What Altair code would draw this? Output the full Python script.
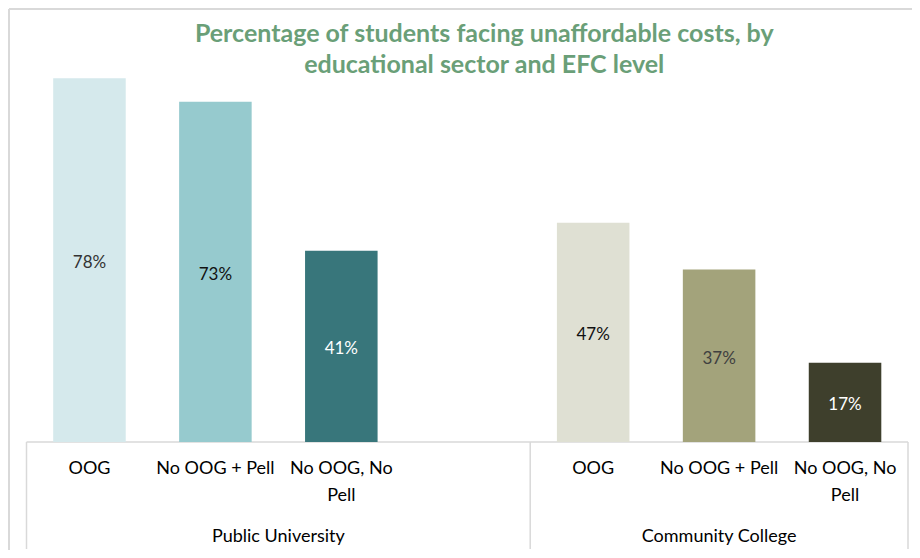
import altair as alt
import pandas as pd

# ---- data ----
slots = ["pu_oog", "pu_pell", "pu_none", "gap", "cc_oog", "cc_pell", "cc_none"]
bar_slots = ["pu_oog", "pu_pell", "pu_none", "cc_oog", "cc_pell", "cc_none"]
categories = ["OOG", "No OOG + Pell", "No OOG, No\nPell",
              "OOG", "No OOG + Pell", "No OOG, No\nPell"]
sectors = ["Public University"] * 3 + ["Community College"] * 3
values = [0.78, 0.73, 0.41, 0.47, 0.37, 0.17]
bar_colors = ["#D5E9EC", "#96CACE", "#38767B", "#DFE0D3", "#A3A37B", "#3E3F2C"]
label_colors = ["#333333", "#111111", "#FFFFFF", "#111111", "#404040", "#FFFFFF"]
group_names = ["Public University", "Community College"]
title_lines = ["Percentage of students facing unaffordable costs, by",
               "educational sector and EFC level"]

W, H = 881.5, 373
PB = 108
FONT = "Lato"
LINE = "#D9D9D9"

df = pd.DataFrame({
    "slot": bar_slots, "category": categories, "sector": sectors,
    "value": values, "bar_color": bar_colors, "label_color": label_colors,
})

xs = alt.Scale(domain=slots, paddingInner=0, paddingOuter=0)
x = alt.X("slot:N", scale=xs, axis=None)
y = alt.Y("value:Q", scale=alt.Scale(domain=[0, 0.8]), axis=None)

bars = alt.Chart(df).mark_bar(width=alt.RelativeBandSize(0.576)).encode(
    x=x, y=y, color=alt.Color("bar_color:N", scale=None)
)

bar_labels = alt.Chart(df).transform_calculate(mid="datum.value / 2").mark_text(
    font=FONT, fontSize=17, baseline="middle", dy=3
).encode(
    x=x,
    y=alt.Y("mid:Q", scale=alt.Scale(domain=[0, 0.8]), axis=None),
    text=alt.Text("value:Q", format=".0%"),
    color=alt.Color("label_color:N", scale=None),
)

cat_labels = alt.Chart(df).mark_text(
    font=FONT, fontSize=18, baseline="top", lineBreak="\n", lineHeight=27, color="#000000"
).encode(x=x, y=alt.value(H + 18), text="category:N")

one = pd.DataFrame({"k": [0]})
axis_line = alt.Chart(one).mark_rule(color=LINE, strokeWidth=1.5).encode(
    x=alt.value(0), x2=alt.value(W), y=alt.value(H)
)

div_start = pd.DataFrame({"slot": [bar_slots[0], bar_slots[3]]})
div_end = pd.DataFrame({"slot": [slots[-1]]})
dividers_a = alt.Chart(div_start).mark_rule(color=LINE, strokeWidth=1.5).encode(
    x=alt.X("slot:N", scale=xs, axis=None, bandPosition=0),
    y=alt.value(H), y2=alt.value(H + 107),
)
dividers_b = alt.Chart(div_end).mark_rule(color=LINE, strokeWidth=1.5).encode(
    x=alt.X("slot:N", scale=xs, axis=None, bandPosition=1),
    y=alt.value(H), y2=alt.value(H + 107),
)

g1 = pd.DataFrame({"slot": [slots[2]], "sector": [group_names[0]]})
g2 = pd.DataFrame({"slot": [slots[5]], "sector": [group_names[1]]})
group_a = alt.Chart(g1).mark_text(font=FONT, fontSize=18, baseline="middle", color="#000000").encode(
    x=alt.X("slot:N", scale=xs, axis=None, bandPosition=0), y=alt.value(H + 95), text="sector:N"
)
group_b = alt.Chart(g2).mark_text(font=FONT, fontSize=18, baseline="middle", color="#000000").encode(
    x=alt.X("slot:N", scale=xs, axis=None, bandPosition=0.5), y=alt.value(H + 95), text="sector:N"
)

title_df = pd.DataFrame({"title": ["\n".join(title_lines)]})
title = alt.Chart(title_df).mark_text(
    font=FONT, fontSize=25, fontWeight="bold", color="#6A9F78",
    baseline="top", align="center", lineBreak="\n", lineHeight=31,
).encode(x=alt.value(W / 2 + 17), y=alt.value(-47), text="title:N")

border_left = alt.Chart(one).mark_rule(color=LINE, strokeWidth=2).encode(
    x=alt.value(-17.5), y=alt.value(-60), y2=alt.value(H + PB)
)
border_top = alt.Chart(one).mark_rule(color=LINE, strokeWidth=2).encode(
    x=alt.value(-17.5), x2=alt.value(W + 4), y=alt.value(-60)
)

chart = alt.layer(
    border_left, border_top, axis_line, dividers_a, dividers_b,
    bars, bar_labels, cat_labels, group_a, group_b, title,
).properties(
    width=W, height=H,
    autosize=alt.AutoSizeParams(type="none"),
    padding={"left": 18.5, "top": 61, "right": 4, "bottom": PB},
).configure_view(stroke=None)

chart.save("out.html", embed_options={"renderer": "svg", "actions": False})
